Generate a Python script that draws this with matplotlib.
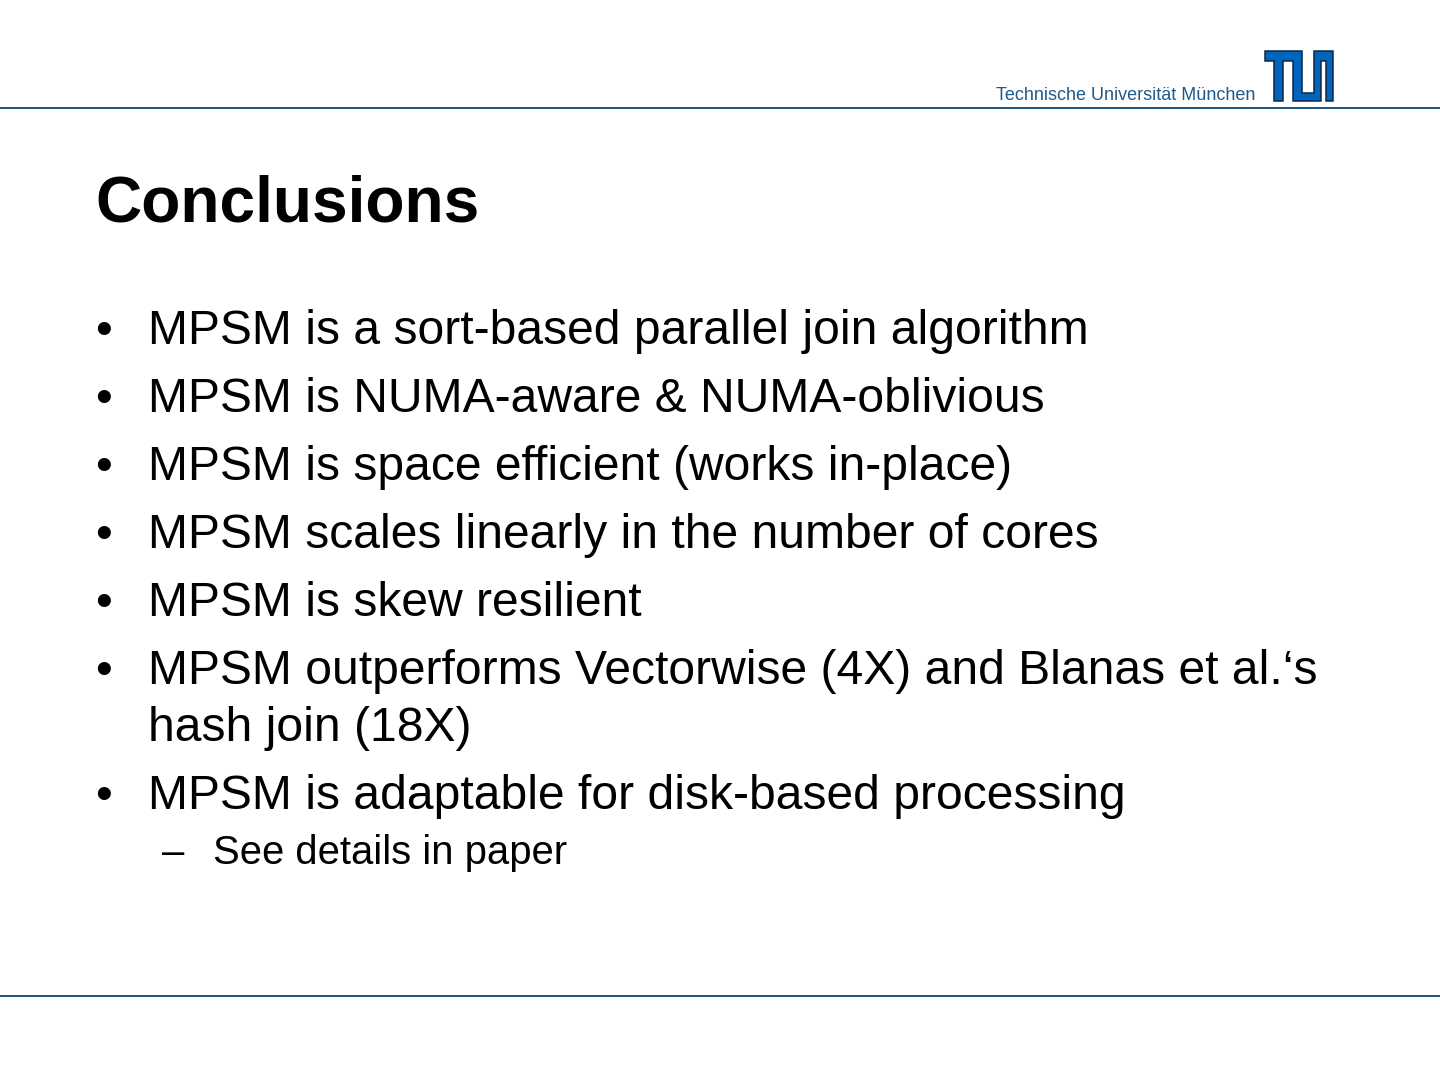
import matplotlib
matplotlib.use("Agg")
import matplotlib.pyplot as plt
from matplotlib.patches import Polygon

plt.rcParams['font.family'] = ['Liberation Sans', 'DejaVu Sans']

title = "Conclusions"
header = "Technische Universität München"
bullets = [
    ["MPSM is a sort-based parallel join algorithm"],
    ["MPSM is NUMA-aware & NUMA-oblivious"],
    ["MPSM is space efficient (works in-place)"],
    ["MPSM scales linearly in the number of cores"],
    ["MPSM is skew resilient"],
    ["MPSM outperforms Vectorwise (4X) and Blanas et al.\u2018s", "hash join (18X)"],
    ["MPSM is adaptable for disk-based processing"],
]
sub_bullets = {6: ["See details in paper"]}

# TUM logo outline in logo units (x right, y down)
logo_x = [0, 37, 37, 49, 49, 68, 68, 61, 61, 56, 56, 28, 28, 18, 18, 9, 9, 0]
logo_y = [0, 0, 42, 42, 0, 0, 50, 50, 10, 10, 50, 50, 10, 10, 50, 50, 10, 10]

W, H, DPI = 1440, 1080, 100
px = 72 / DPI  # points per pixel
line_col = "#1d5a88"

fig = plt.figure(figsize=(W / DPI, H / DPI), dpi=DPI)
ax = fig.add_axes([0, 0, 1, 1])
ax.set_xlim(0, W)
ax.set_ylim(H, 0)
ax.axis('off')

# header / footer rules
ax.plot([0, W], [108, 108], color=line_col, lw=2 * px, solid_capstyle='butt')
ax.plot([0, W], [996, 996], color=line_col, lw=2 * px, solid_capstyle='butt')

ax.text(1255, 100, header, fontsize=18 * px, color="#1f5a8c", ha='right', va='baseline')

# logo
lx0, ly0 = 1265, 51
pts = [(lx0 + x, ly0 + y) for x, y in zip(logo_x, logo_y)]
ax.add_patch(Polygon(pts, closed=True, facecolor="#0065bd", edgecolor="#0b2545", lw=1.5 * px))

# title
ax.text(95, 221, title, fontsize=64 * px, fontweight='bold', color='black', va='baseline')

# bullets
y = 344
for i, lines in enumerate(bullets):
    ax.text(95, y, "\u2022", fontsize=48 * px, va='baseline')
    for j, ln in enumerate(lines):
        ax.text(148, y + j * 57, ln, fontsize=48 * px, va='baseline')
    y_last = y + (len(lines) - 1) * 57
    if i in sub_bullets:
        sy = y_last + 55
        for s in sub_bullets[i]:
            ax.text(162, sy, "\u2013", fontsize=40 * px, va='baseline')
            ax.text(213, sy, s, fontsize=40 * px, va='baseline')
            sy += 50
    y = y_last + 68

fig.savefig("out.png", dpi=DPI)
